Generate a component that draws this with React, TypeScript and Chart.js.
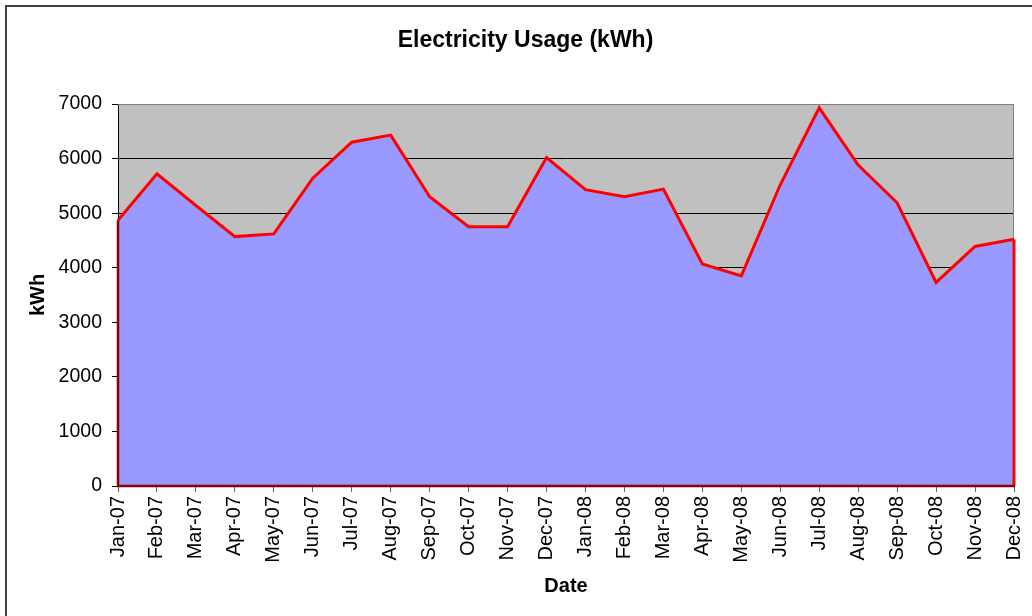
import React, { useEffect, useRef } from "react";
import { Chart, registerables } from "chart.js";

Chart.register(...registerables);

const months = [
  "Jan-07", "Feb-07", "Mar-07", "Apr-07", "May-07", "Jun-07",
  "Jul-07", "Aug-07", "Sep-07", "Oct-07", "Nov-07", "Dec-07",
  "Jan-08", "Feb-08", "Mar-08", "Apr-08", "May-08", "Jun-08",
  "Jul-08", "Aug-08", "Sep-08", "Oct-08", "Nov-08", "Dec-08",
];

const usageKWh = [
  4870, 5720, 5140, 4570, 4620, 5640,
  6300, 6430, 5300, 4750, 4750, 6020,
  5430, 5300, 5440, 4070, 3850, 5520,
  6930, 5880, 5190, 3730, 4390, 4520,
];

const yMin = 0;
const yMax = 7000;
const yStep = 1000;

const FONT = "'Liberation Sans', Arial, sans-serif";

const plotBackground = {
  id: "plotBackground",
  beforeDraw(chart: any) {
    const { ctx, chartArea } = chart;
    ctx.save();
    ctx.fillStyle = "#C0C0C0";
    ctx.fillRect(chartArea.left, chartArea.top, chartArea.right - chartArea.left, chartArea.bottom - chartArea.top);
    ctx.restore();
  },
  beforeDatasetsDraw(chart: any) {
    const { ctx, chartArea } = chart;
    ctx.save();
    ctx.strokeStyle = "#808080";
    ctx.lineWidth = 1;
    ctx.beginPath();
    ctx.moveTo(chartArea.left, chartArea.top + 0.5);
    ctx.lineTo(chartArea.right - 0.5, chartArea.top + 0.5);
    ctx.lineTo(chartArea.right - 0.5, chartArea.bottom);
    ctx.stroke();
    ctx.restore();
  },
};

const areaOutline = {
  id: "areaOutline",
  afterDatasetsDraw(chart: any) {
    const meta = chart.getDatasetMeta(0);
    const pts = meta.data;
    if (!pts || pts.length === 0) return;
    const { ctx } = chart;
    const y0 = chart.scales.y.getPixelForValue(0);
    const first = pts[0];
    const last = pts[pts.length - 1];
    ctx.save();
    ctx.lineWidth = 3;
    ctx.lineJoin = "miter";
    ctx.strokeStyle = "#FF0000";
    ctx.beginPath();
    ctx.moveTo(last.x, last.y);
    ctx.lineTo(last.x, y0);
    ctx.stroke();
    ctx.strokeStyle = "#8C0000";
    ctx.lineWidth = 2.5;
    ctx.beginPath();
    ctx.moveTo(last.x, y0);
    ctx.lineTo(first.x, y0);
    ctx.lineTo(first.x, first.y);
    ctx.stroke();
    ctx.restore();
  },
};

export default function App() {
  const canvasRef = useRef<HTMLCanvasElement | null>(null);

  useEffect(() => {
    document.documentElement.style.overflow = "hidden";
    const canvas = canvasRef.current;
    if (!canvas) return;
    const chart = new Chart(canvas, {
      type: "line",
      data: {
        labels: months,
        datasets: [
          {
            label: "kWh",
            data: usageKWh,
            borderColor: "#FF0000",
            borderWidth: 3,
            backgroundColor: "#9999FF",
            fill: "origin",
            pointRadius: 0,
            pointHoverRadius: 0,
            tension: 0,
          },
        ],
      },
      options: {
        responsive: false,
        animation: false,
        devicePixelRatio: 1,
        layout: { padding: { left: 37, right: 18, top: 0, bottom: 0 } },
        plugins: {
          legend: { display: false },
          tooltip: { enabled: false },
          title: {
            display: true,
            text: "Electricity Usage (kWh)",
            color: "#000",
            font: { family: FONT, size: 23, weight: "bold" },
            padding: { top: 27, bottom: 49.4 },
          },
        },
        scales: {
          x: {
            type: "category",
            offset: false,
            grid: {
              drawOnChartArea: false,
              drawTicks: true,
              tickLength: 6,
              tickColor: "#666",
            },
            border: { color: "#000", width: 1 },
            ticks: {
              autoSkip: false,
              maxRotation: 90,
              minRotation: 90,
              padding: 4,
              color: "#000",
              font: { family: FONT, size: 20 },
            },
            title: {
              display: true,
              text: "Date",
              color: "#000",
              font: { family: FONT, size: 20, weight: "bold" },
              padding: { top: 0, bottom: 18 },
            },
            afterFit(scale: any) {
              scale.height = 130;
              scale.paddingLeft = 0;
              scale.paddingRight = 0;
            },
          },
          y: {
            min: yMin,
            max: yMax,
            grid: {
              color: (c: any) => (c.tick && c.tick.value === yMax ? "#808080" : "#000"),
              tickColor: "#000",
              tickLength: 6,
              lineWidth: 1,
            },
            border: { color: "#000", width: 1 },
            ticks: {
              stepSize: yStep,
              padding: 10,
              color: "#000",
              font: { family: FONT, size: 19.5 },
              callback: (v: any) => String(v),
            },
            title: {
              display: true,
              text: "kWh",
              color: "#000",
              font: { family: FONT, size: 20, weight: "bold" },
              padding: { top: -10.5, bottom: 0 },
            },
            afterFit(scale: any) {
              scale.width = 81;
            },
          },
        },
      },
      plugins: [plotBackground, areaOutline],
    });
    return () => chart.destroy();
  }, []);

  return (
    <div style={{ position: "absolute", left: 0, top: 0, width: 1032, height: 616, overflow: "hidden", background: "#fff" }}>
      <div
        style={{
          position: "absolute",
          left: 5,
          top: 5,
          width: 1200,
          height: 800,
          borderLeft: "2px solid #404040",
          borderTop: "2px solid #404040",
        }}
      />
      <canvas
        ref={canvasRef}
        width={1032}
        height={616}
        style={{ position: "absolute", left: 0, top: 0, width: 1032, height: 616 }}
      />
    </div>
  );
}
